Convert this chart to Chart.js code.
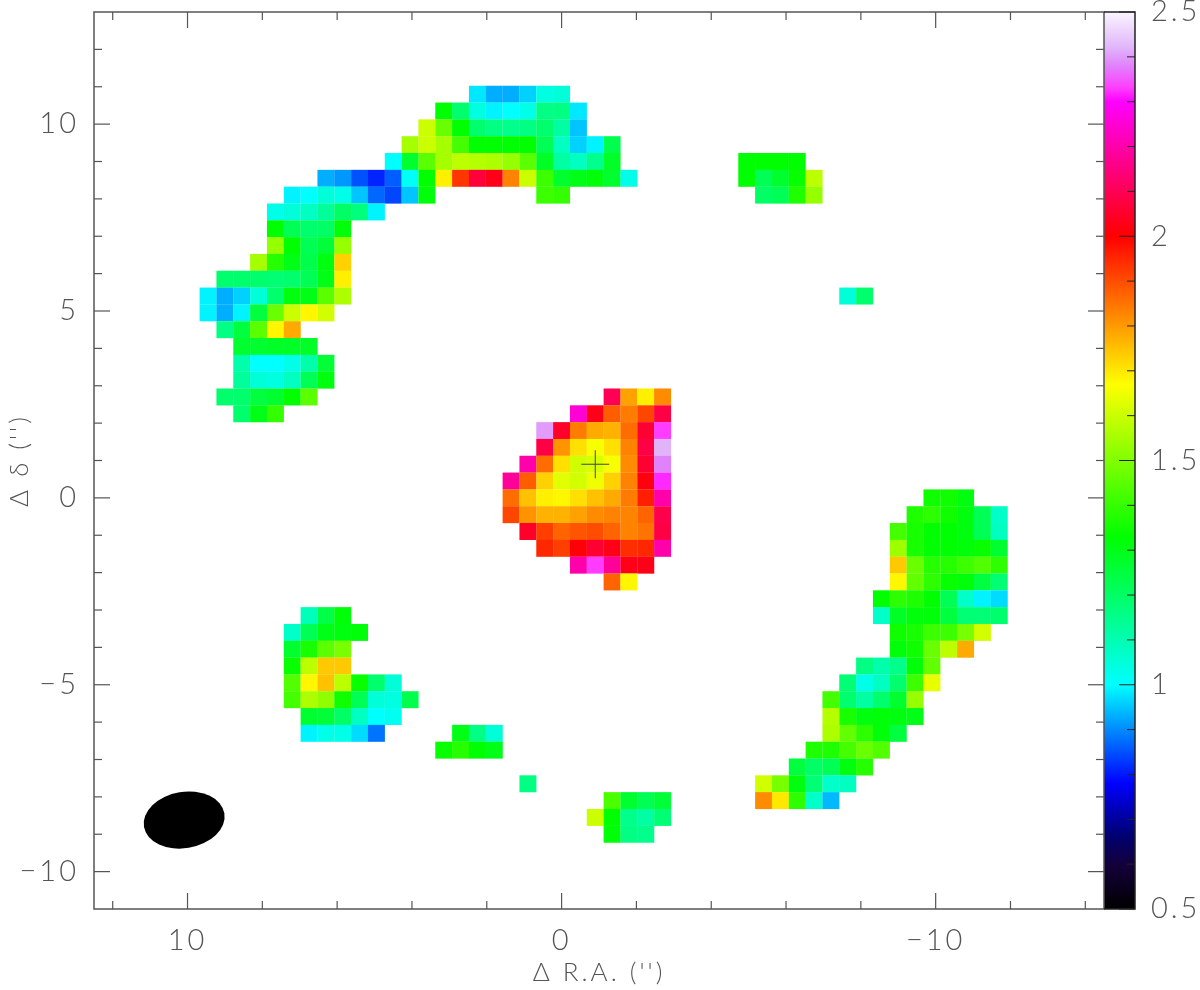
<!DOCTYPE html>
<html>
<head>
<meta charset="utf-8">
<title>Channel map</title>
<script src="https://cdn.jsdelivr.net/npm/chart.js@4/dist/chart.umd.min.js"></script>
<style>
    body { margin: 0; background: #fff; }
    canvas { display: block; }
</style>
</head>
<body>
<canvas id="mapChart" width="1200" height="990"></canvas>
<script>
// Map cells: each strip is one run of neighbouring cells in a row
const stripRow = [0, 1, 2, 3, 4, 4, 5, 5, 6, 6, 6, 7, 8, 9, 10, 11, 12, 12, 13, 14, 15, 16, 17, 18, 18, 19, 19, 20, 21, 22, 23, 24, 24, 25, 25, 26, 26, 27, 27, 28, 28, 29, 29, 30, 31, 31, 32, 32, 33, 33, 34, 34, 35, 35, 36, 36, 37, 37, 38, 38, 38, 39, 39, 40, 41, 41, 42, 42, 43, 44];
const stripCol = [16, 14, 13, 12, 11, 32, 7, 32, 5, 20, 33, 4, 4, 4, 3, 1, 0, 38, 0, 1, 2, 2, 2, 1, 24, 2, 22, 20, 20, 19, 18, 18, 43, 18, 42, 19, 41, 20, 41, 22, 41, 24, 41, 40, 6, 40, 5, 41, 5, 41, 5, 39, 5, 38, 5, 37, 6, 37, 6, 15, 37, 14, 36, 35, 19, 33, 33, 24, 23, 24];
const stripVals = [
    [0.98, 0.93, 0.93, 0.96, 1.04, 1.05],
    [1.33, 1.19, 1.04, 0.99, 1.0, 1.03, 1.16, 1.16, 0.98],
    [1.6, 1.47, 1.33, 1.19, 1.16, 1.15, 1.16, 1.19, 1.12, 0.95],
    [1.55, 1.6, 1.55, 1.42, 1.33, 1.33, 1.33, 1.33, 1.22, 1.08, 0.96, 0.99, 1.23],
    [1.0, 1.27, 1.45, 1.55, 1.58, 1.57, 1.56, 1.53, 1.45, 1.28, 1.12, 1.08, 1.15, 1.28],
    [1.33, 1.33, 1.33, 1.33],
    [0.93, 0.91, 0.85, 0.81, 0.86, 1.01, 1.33, 1.69, 1.93, 2.07, 2.03, 1.83, 1.6, 1.41, 1.27, 1.3, 1.32, 1.27, 1.03],
    [1.33, 1.22, 1.27, 1.34, 1.58],
    [0.99, 1.0, 1.05, 1.03, 0.95, 0.87, 0.84, 0.95, 1.32],
    [1.41, 1.4],
    [1.2, 1.22, 1.37, 1.53],
    [1.03, 1.05, 1.08, 1.13, 1.2, 1.17, 0.99],
    [1.33, 1.22, 1.19, 1.2, 1.32],
    [1.53, 1.33, 1.22, 1.26, 1.53],
    [1.55, 1.38, 1.3, 1.23, 1.31, 1.73],
    [1.19, 1.19, 1.19, 1.18, 1.19, 1.22, 1.3, 1.69],
    [0.99, 0.93, 0.96, 1.05, 1.19, 1.31, 1.3, 1.45, 1.56],
    [1.05, 1.19],
    [0.99, 0.93, 0.99, 1.25, 1.47, 1.6, 1.68, 1.61],
    [1.16, 1.25, 1.45, 1.68, 1.78],
    [1.27, 1.27, 1.28, 1.28, 1.28],
    [1.11, 1.0, 1.0, 1.03, 1.11, 1.26],
    [1.13, 1.05, 1.04, 1.08, 1.22, 1.31],
    [1.19, 1.19, 1.25, 1.27, 1.33, 1.45],
    [2.1, 1.79, 1.69, 1.82],
    [1.19, 1.3, 1.4],
    [2.25, 2.03, 1.88, 1.84, 1.91, 2.08],
    [2.4, 2.05, 1.84, 1.78, 1.77, 1.86, 2.06, 2.33],
    [2.08, 1.81, 1.71, 1.66, 1.71, 1.83, 2.08, 2.42],
    [2.2, 1.86, 1.71, 1.61, 1.62, 1.66, 1.82, 2.06, 2.38],
    [2.18, 1.88, 1.73, 1.63, 1.61, 1.65, 1.73, 1.83, 2.02, 2.32],
    [1.86, 1.75, 1.69, 1.68, 1.71, 1.75, 1.78, 1.84, 1.96, 2.2],
    [1.35, 1.35, 1.31],
    [1.91, 1.81, 1.77, 1.77, 1.79, 1.82, 1.83, 1.83, 1.87, 2.09],
    [1.37, 1.39, 1.35, 1.31, 1.22, 1.07],
    [2.05, 1.92, 1.87, 1.89, 1.9, 1.87, 1.83, 1.85, 2.08],
    [1.42, 1.36, 1.33, 1.33, 1.31, 1.22, 1.08],
    [1.95, 1.92, 2.01, 2.06, 2.03, 1.94, 1.95, 2.2],
    [1.54, 1.36, 1.33, 1.33, 1.32, 1.34, 1.27],
    [2.2, 2.33, 2.18, 2.03, 2.03],
    [1.74, 1.47, 1.38, 1.38, 1.41, 1.44, 1.39],
    [1.87, 1.68],
    [1.68, 1.46, 1.39, 1.34, 1.32, 1.25, 1.18],
    [1.33, 1.39, 1.37, 1.33, 1.22, 1.07, 0.99, 0.97],
    [1.09, 1.24, 1.32],
    [1.07, 1.28, 1.32, 1.32, 1.25, 1.18, 1.18, 1.19],
    [1.07, 1.22, 1.3, 1.31, 1.32],
    [1.35, 1.36, 1.41, 1.41, 1.49, 1.61],
    [1.27, 1.36, 1.45, 1.49],
    [1.32, 1.35, 1.47, 1.58, 1.78],
    [1.34, 1.58, 1.74, 1.74],
    [1.16, 1.11, 1.15, 1.32, 1.46],
    [1.44, 1.68, 1.75, 1.58, 1.34, 1.19, 1.05],
    [1.18, 1.03, 1.08, 1.19, 1.41, 1.64],
    [1.42, 1.56, 1.52, 1.35, 1.22, 1.05, 1.04, 1.23],
    [1.42, 1.19, 1.12, 1.19, 1.27, 1.53],
    [1.27, 1.26, 1.2, 1.08, 1.0, 1.02],
    [1.57, 1.36, 1.31, 1.32, 1.31, 1.3],
    [0.99, 1.03, 1.03, 0.97, 0.88],
    [1.3, 1.16, 1.05],
    [1.56, 1.46, 1.39, 1.32, 1.25],
    [1.34, 1.38, 1.33, 1.3],
    [1.37, 1.37, 1.42, 1.47, 1.44],
    [1.25, 1.2, 1.22, 1.31, 1.38],
    [1.16],
    [1.61, 1.49, 1.31, 1.18, 1.07, 1.08],
    [1.82, 1.7, 1.39, 1.07, 0.94],
    [1.43, 1.27, 1.22, 1.26],
    [1.6, 1.33, 1.15, 1.12, 1.18],
    [1.32, 1.16, 1.15]
];

// Map grid, arcsec
const cellSize = 0.45;
const firstCol = 9.45;
const firstRow = 10.8;

// Cross and beam, arcsec
const crossPoint = [{ x: -0.9, y: 0.9 }];
const beamCentre = { x: 10.09, y: -8.62 };
const beamAxes = { major: 1.09, minor: 0.754, angle: -9.6 };

// Axis ticks
const xLimits = [-14.5, 12.5];
const yLimits = [-11, 13];
const xMajor = [10, 0, -10];
const xMinor = [12, 8, 6, 4, 2, -2, -4, -6, -8, -12, -14];
const yMajor = [10, 5, 0, -5, -10];
const yMinor = [12, 11, 9, 8, 7, 6, 4, 3, 2, 1, -1, -2, -3, -4, -6, -7, -8, -9];
const barLimits = [0.5, 2.5];
const barMajor = [2.5, 2, 1.5, 1, 0.5];
const barMinor = [2.4, 2.3, 2.2, 2.1, 1.9, 1.8, 1.7, 1.6, 1.4, 1.3, 1.2, 1.1, 0.9, 0.8, 0.7, 0.6];

// Colour table
const rampValues = [0.5, 0.6, 0.66, 0.735, 0.78, 1.0, 1.33, 1.67, 2.0, 2.3, 2.33, 2.38, 2.42, 2.5];
const rampColors = [
    [0, 0, 0], [20, 0, 60], [0, 0, 110], [0, 0, 200], [0, 0, 255], [0, 255, 255], [0, 255, 0],
    [255, 255, 0], [255, 0, 0], [255, 0, 255], [255, 60, 255], [225, 130, 250], [225, 180, 250], [250, 245, 255]
];

const inkColor = '#555555';
const labelFont = { family: 'Lato, "Open Sans", sans-serif', size: 29, weight: 300 };
const titleFont = { family: 'Lato, "Open Sans", sans-serif', size: 26, weight: 300 };

function colorFor(value) {
    let i = 0;
    while (i < rampValues.length - 2 && value > rampValues[i + 1]) i++;
    const t = Math.min(1, Math.max(0, (value - rampValues[i]) / (rampValues[i + 1] - rampValues[i])));
    const c = rampColors[i].map((v, k) => Math.round(v + (rampColors[i + 1][k] - v) * t));
    return 'rgb(' + c.join(',') + ')';
}

const cellPoints = [];
const cellColors = [];
stripVals.forEach((vals, s) => {
    vals.forEach((v, k) => {
        cellPoints.push({
            x: firstCol - cellSize * (stripCol[s] + k),
            y: firstRow - cellSize * stripRow[s]
        });
        cellColors.push(colorFor(v));
    });
});

// Inward ticks, frame, beam and colour bar
const mapFrame = {
    id: 'mapFrame',
    beforeDraw(chart) {
        // the plot's labels are widely spaced
        chart.ctx.letterSpacing = '3px';
    },
    afterDatasetsDraw(chart) {
        const ctx = chart.ctx;
        const { x, y, c } = chart.scales;
        const { left, right, top, bottom } = chart.chartArea;
        const barRight = 1135;

        // beam
        ctx.save();
        ctx.fillStyle = '#000';
        ctx.beginPath();
        ctx.ellipse(
            x.getPixelForValue(beamCentre.x), y.getPixelForValue(beamCentre.y),
            Math.abs(x.getPixelForValue(beamAxes.major) - x.getPixelForValue(0)),
            Math.abs(y.getPixelForValue(beamAxes.minor) - y.getPixelForValue(0)),
            beamAxes.angle * Math.PI / 180, 0, Math.PI * 2
        );
        ctx.fill();

        // colour bar
        const grad = ctx.createLinearGradient(0, c.getPixelForValue(barLimits[0]), 0, c.getPixelForValue(barLimits[1]));
        rampValues.forEach((v, i) => {
            const col = rampColors[i];
            grad.addColorStop((v - barLimits[0]) / (barLimits[1] - barLimits[0]), 'rgb(' + col.join(',') + ')');
        });
        ctx.fillStyle = grad;
        ctx.fillRect(right, top, barRight - right, bottom - top);

        ctx.strokeStyle = inkColor;
        ctx.lineWidth = 1.2;

        function tick(x1, y1, x2, y2) {
            ctx.beginPath();
            ctx.moveTo(x1, y1);
            ctx.lineTo(x2, y2);
            ctx.stroke();
        }

        xMajor.forEach(v => {
            const px = x.getPixelForValue(v);
            tick(px, bottom, px, bottom - 16);
            tick(px, top, px, top + 16);
        });
        xMinor.forEach(v => {
            const px = x.getPixelForValue(v);
            tick(px, bottom, px, bottom - 8);
            tick(px, top, px, top + 8);
        });
        yMajor.forEach(v => {
            const py = y.getPixelForValue(v);
            tick(left, py, left + 16, py);
            tick(right, py, right - 16, py);
        });
        yMinor.forEach(v => {
            const py = y.getPixelForValue(v);
            tick(left, py, left + 8, py);
            tick(right, py, right - 8, py);
        });

        ctx.lineWidth = 1.5;
        ctx.strokeRect(left, top, right - left, bottom - top);

        // colour bar frame and ticks
        ctx.strokeStyle = '#222';
        ctx.lineWidth = 1;
        barMajor.forEach(v => {
            const py = c.getPixelForValue(v);
            tick(barRight, py, barRight - 16, py);
        });
        barMinor.forEach(v => {
            const py = c.getPixelForValue(v);
            tick(barRight, py, barRight - 8, py);
        });
        ctx.lineWidth = 1.5;
        ctx.beginPath();
        ctx.moveTo(right, top);
        ctx.lineTo(barRight, top);
        ctx.lineTo(barRight, bottom);
        ctx.lineTo(right, bottom);
        ctx.stroke();
        ctx.restore();
    }
};

function fixedTicks(values) {
    return function(scale) {
        scale.ticks = values.map(v => ({ value: v }));
    };
}

function tickText(value) {
    return String(value).replace('-', '\u2212');
}

// keep the frame where it is, whatever size the labels are
function fixWidth(width) {
    return function(scale) {
        scale.width = width;
        scale.paddingTop = 0;
        scale.paddingBottom = 0;
    };
}

new Chart(document.getElementById('mapChart'), {
    type: 'scatter',
    data: {
        datasets: [{
            data: cellPoints,
            backgroundColor: cellColors,
            pointStyle: 'rect',
            pointRadius: 12,
            pointHoverRadius: 12,
            pointBorderWidth: 0,
            order: 2
        }, {
            data: crossPoint,
            pointStyle: 'cross',
            pointRadius: 14,
            borderColor: '#444444',
            pointBorderWidth: 1,
            order: 1
        }]
    },
    options: {
        responsive: false,
        animation: false,
        events: [],
        layout: { autoPadding: false, padding: { top: 12 } },
        plugins: { legend: { display: false }, tooltip: { enabled: false } },
        scales: {
            x: {
                type: 'linear',
                reverse: true,
                min: xLimits[0],
                max: xLimits[1],
                grid: { display: false },
                border: { display: false },
                afterBuildTicks: fixedTicks(xMajor),
                afterFit(scale) {
                    scale.height = 81;
                    scale.paddingLeft = 0;
                    scale.paddingRight = 0;
                },
                ticks: {
                    autoSkip: false,
                    maxRotation: 0,
                    padding: 6,
                    color: inkColor,
                    font: labelFont,
                    callback: tickText
                },
                title: { display: true, text: "\u0394 R.A. ('')", color: inkColor, font: titleFont, padding: { top: 0, bottom: 2 } }
            },
            y: {
                type: 'linear',
                min: yLimits[0],
                max: yLimits[1],
                grid: { display: false },
                border: { display: false },
                afterBuildTicks: fixedTicks(yMajor),
                afterFit: fixWidth(94),
                ticks: {
                    autoSkip: false,
                    padding: 7,
                    color: inkColor,
                    font: labelFont,
                    callback: tickText
                },
                title: { display: true, text: "\u0394 \u03b4 ('')", color: inkColor, font: titleFont, padding: { top: 4, bottom: 0 } }
            },
            c: {
                type: 'linear',
                position: 'right',
                axis: 'y',
                min: barLimits[0],
                max: barLimits[1],
                grid: { display: false },
                border: { display: false },
                afterBuildTicks: fixedTicks(barMajor),
                afterFit: fixWidth(96),
                ticks: {
                    autoSkip: false,
                    padding: 39,
                    color: inkColor,
                    font: labelFont,
                    callback: tickText
                }
            }
        }
    },
    plugins: [mapFrame]
});
</script>
</body>
</html>
